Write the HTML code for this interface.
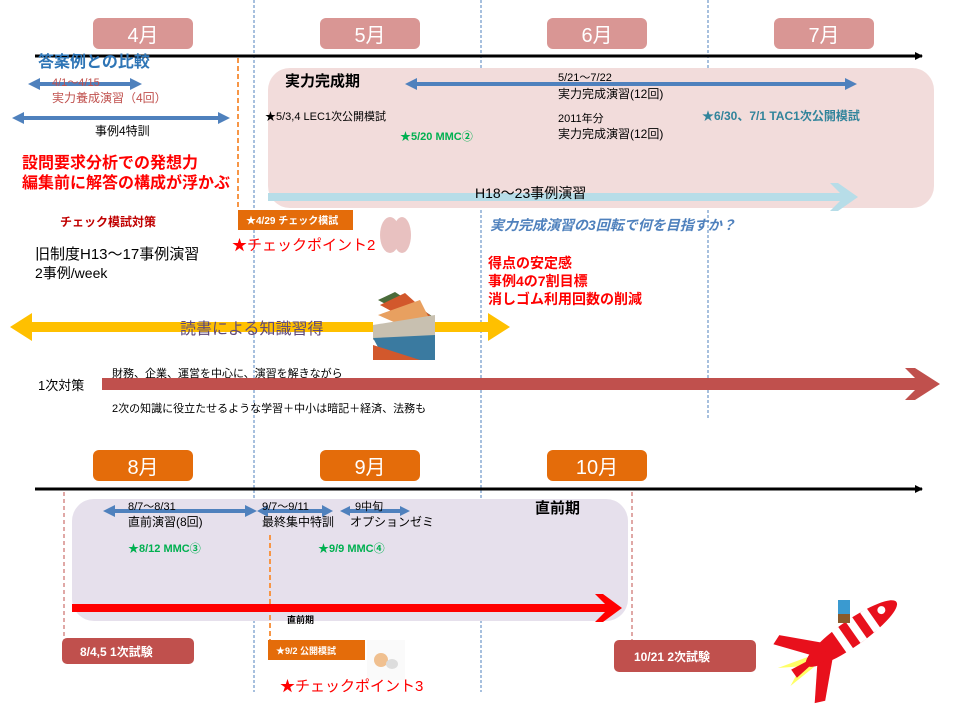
<!DOCTYPE html>
<html><head><meta charset="utf-8"><style>
body{margin:0;background:#fff;}
svg{display:block;font-family:"Liberation Sans","Noto Sans CJK JP",sans-serif;}
</style></head><body>
<svg width="960" height="720" viewBox="0 0 960 720" xmlns="http://www.w3.org/2000/svg">
<defs>
<marker id="ah" markerWidth="8" markerHeight="8" refX="7" refY="4" orient="auto" markerUnits="userSpaceOnUse"><path d="M0,0 L8,4 L0,8z" fill="#000"/></marker>
</defs>
<g stroke="#4f81bd" stroke-width="1" stroke-dasharray="3,2">
<line x1="254" y1="0" x2="254" y2="692"/><line x1="481" y1="0" x2="481" y2="692"/><line x1="708" y1="0" x2="708" y2="420"/>
</g>
<rect x="268" y="68" width="666" height="140" rx="22" fill="#f2dcdb"/>
<rect x="72" y="499" width="556" height="122" rx="22" fill="#e6e0ec"/>
<g fill="#d99694"><rect x="93" y="18" width="100" height="31" rx="6"/><rect x="320" y="18" width="100" height="31" rx="6"/><rect x="547" y="18" width="100" height="31" rx="6"/><rect x="774" y="18" width="100" height="31" rx="6"/></g>
<g fill="#e46c0a"><rect x="93" y="450" width="100" height="31" rx="6"/><rect x="320" y="450" width="100" height="31" rx="6"/><rect x="547" y="450" width="100" height="31" rx="6"/></g>
<g fill="#fff" font-size="20" text-anchor="middle"><text x="143" y="42">4月</text><text x="370" y="42">5月</text><text x="597" y="42">6月</text><text x="824" y="42">7月</text>
<text x="143" y="474">8月</text><text x="370" y="474">9月</text><text x="597" y="474">10月</text></g>
<line x1="35" y1="56" x2="922" y2="56" stroke="#000" stroke-width="3" marker-end="url(#ah)"/>
<line x1="35" y1="489" x2="922" y2="489" stroke="#000" stroke-width="3" marker-end="url(#ah)"/>
<line x1="238" y1="58" x2="238" y2="210" stroke="#f79646" stroke-width="2" stroke-dasharray="5,3"/>
<line x1="270" y1="535" x2="270" y2="640" stroke="#f79646" stroke-width="2" stroke-dasharray="5,3"/>
<line x1="64" y1="492" x2="64" y2="640" stroke="#c0504d" stroke-dasharray="4,3"/>
<line x1="632" y1="492" x2="632" y2="640" stroke="#c0504d" stroke-dasharray="4,3"/>
<g fill="#4f81bd">
<path d="M28,84 L40,78 L40,82 L130,82 L130,78 L142,84 L130,90 L130,86 L40,86 L40,90z"/>
<path d="M12,118 L24,112 L24,116 L218,116 L218,112 L230,118 L218,124 L218,120 L24,120 L24,124z"/>
<path d="M405,84 L417,78 L417,82 L845,82 L845,78 L857,84 L845,90 L845,86 L417,86 L417,90z"/>
<path d="M103,511 L115,505 L115,509 L245,509 L245,505 L257,511 L245,517 L245,513 L115,513 L115,517z"/>
<path d="M257,511 L268,505 L268,509 L322,509 L322,505 L333,511 L322,517 L322,513 L268,513 L268,517z"/>
<path d="M340,511 L350,506 L350,509 L400,509 L400,506 L410,511 L400,516 L400,513 L350,513 L350,516z"/>
</g>
<path d="M268,193 L840,193 L830,183 L838,183 L858,197 L838,211 L830,211 L840,201 L268,201z" fill="#b7dde8"/>
<path d="M10,327 L32,313 L32,322 L488,322 L488,313 L510,327 L488,341 L488,332 L32,332 L32,341z" fill="#ffc000"/>
<path d="M102,378 L915,378 L905,368 L915,368 L940,384 L915,400 L905,400 L915,390 L102,390z" fill="#c0504d"/>
<path d="M72,604 L605,604 L595,594 L603,594 L622,608 L603,622 L595,622 L605,612 L72,612z" fill="#ff0000"/>
<text x="38" y="67" font-size="16" fill="#2e75b6" font-weight="bold">答案例との比較</text>
<text x="52" y="86" font-size="11" fill="#c0504d">4/1～4/15</text>
<text x="52" y="102" font-size="12" fill="#c0504d">実力養成演習（4回）</text>
<text x="95" y="135" font-size="12">事例4特訓</text>
<text x="22" y="168" font-size="16" fill="#ff0000" font-weight="bold">設問要求分析での発想力</text>
<text x="22" y="188" font-size="16" fill="#ff0000" font-weight="bold">編集前に解答の構成が浮かぶ</text>
<text x="60" y="226" font-size="12" fill="#c00000" font-weight="bold">チェック模試対策</text>
<text x="35" y="259" font-size="15">旧制度H13～17事例演習</text>
<text x="35" y="278" font-size="14">2事例/week</text>
<text x="285" y="86" font-size="15" font-weight="bold">実力完成期</text>
<text x="265" y="120" font-size="11">★5/3,4  LEC1次公開模試</text>
<text x="400" y="140" font-size="11" fill="#00b050" font-weight="bold">★5/20  MMC②</text>
<text x="558" y="81" font-size="11">5/21～7/22</text>
<text x="558" y="98" font-size="12">実力完成演習(12回)</text>
<text x="558" y="122" font-size="11">2011年分</text>
<text x="558" y="138" font-size="12">実力完成演習(12回)</text>
<text x="702" y="120" font-size="12" fill="#31849b" font-weight="bold">★6/30、7/1  TAC1次公開模試</text>
<text x="475" y="198" font-size="14">H18～23事例演習</text>
<rect x="238" y="210" width="115" height="20" fill="#e46c0a"/>
<text x="246" y="224" font-size="10" fill="#fff" font-weight="bold">★4/29  チェック模試</text>
<g fill="#c0504d" opacity="0.35"><ellipse cx="390" cy="235" rx="10" ry="18"/><ellipse cx="402" cy="235" rx="9" ry="18"/></g>
<text x="232" y="250" font-size="15" fill="#ff0000">★チェックポイント2</text>
<text x="490" y="230" font-size="14" fill="#4f81bd" font-weight="bold" font-style="italic">実力完成演習の3回転で何を目指すか？</text>
<text x="488" y="268" font-size="14" fill="#ff0000" font-weight="bold">得点の安定感</text>
<text x="488" y="286" font-size="14" fill="#ff0000" font-weight="bold">事例4の7割目標</text>
<text x="488" y="304" font-size="14" fill="#ff0000" font-weight="bold">消しゴム利用回数の削減</text>
<text x="180" y="334" font-size="16" fill="#5f497a">読書による知識習得</text>
<g>
<rect x="373" y="290" width="62" height="70" fill="#fff"/>
<path d="M378,300 L395,292 L435,318 L435,330 Z" fill="#4a6b3a"/>
<path d="M380,305 L405,293 L435,320 L435,335 Z" fill="#d2582c"/>
<path d="M378,315 L420,300 L435,330 L435,340 Z" fill="#e8a060"/>
<path d="M373,325 L435,315 L435,345 L373,340 Z" fill="#c8c0b0"/>
<path d="M373,338 L435,335 L435,360 L385,360 Z" fill="#3a7aa0"/>
<path d="M373,345 L420,360 L373,360 Z" fill="#d2582c"/>
</g>
<text x="38" y="390" font-size="13">1次対策</text>
<text x="112" y="377" font-size="11">財務、企業、運営を中心に、演習を解きながら</text>
<text x="112" y="412" font-size="11">2次の知識に役立たせるような学習＋中小は暗記＋経済、法務も</text>
<text x="128" y="510" font-size="11">8/7～8/31</text>
<text x="128" y="526" font-size="12">直前演習(8回)</text>
<text x="262" y="510" font-size="11">9/7～9/11</text>
<text x="262" y="526" font-size="12">最終集中特訓</text>
<text x="355" y="510" font-size="11">9中旬</text>
<text x="350" y="526" font-size="12">オプションゼミ</text>
<text x="535" y="513" font-size="15" font-weight="bold">直前期</text>
<text x="128" y="552" font-size="11" fill="#00b050" font-weight="bold">★8/12  MMC③</text>
<text x="318" y="552" font-size="11" fill="#00b050" font-weight="bold">★9/9  MMC④</text>
<text x="287" y="623" font-size="9" font-weight="bold">直前期</text>
<rect x="62" y="638" width="132" height="26" rx="5" fill="#c0504d"/>
<text x="80" y="656" font-size="12" fill="#fff" font-weight="bold">8/4,5  1次試験</text>
<rect x="268" y="640" width="97" height="20" fill="#e46c0a"/>
<text x="276" y="654" font-size="9" fill="#fff" font-weight="bold">★9/2  公開模試</text>
<rect x="367" y="640" width="38" height="40" fill="#fafafa"/>
<circle cx="381" cy="660" r="7" fill="#f0c090"/><ellipse cx="392" cy="664" rx="6" ry="5" fill="#ddd"/>
<text x="280" y="691" font-size="15" fill="#ff0000">★チェックポイント3</text>
<rect x="614" y="640" width="142" height="32" rx="5" fill="#c0504d"/>
<text x="634" y="661" font-size="12" fill="#fff" font-weight="bold">10/21  2次試験</text>
<g transform="translate(835,645) rotate(-35)">
<path d="M-30,-6 L-60,-14 L-40,-2 L-60,8 L-30,6 Z" fill="#ff0" opacity="0.6"/>
<ellipse cx="20" cy="0" rx="55" ry="13" fill="#e8101c"/>
<rect x="5" y="-13" width="8" height="26" fill="#fff"/><rect x="22" y="-13" width="8" height="26" fill="#fff"/><rect x="39" y="-12" width="8" height="24" fill="#fff"/>
<path d="M-10,-10 L-40,-40 L-50,-36 L-25,-5 Z" fill="#e8101c"/>
<path d="M-10,10 L-40,40 L-50,36 L-25,5 Z" fill="#e8101c"/>
<path d="M-10,0 L-50,5 L-50,-5 Z" fill="#e8101c"/>
<circle cx="58" cy="-2" r="4" fill="#fff"/>
</g>
<rect x="838" y="600" width="12" height="14" fill="#3a9ad0"/><rect x="838" y="614" width="12" height="9" fill="#8a5a2a"/>
</svg>
</body></html>
